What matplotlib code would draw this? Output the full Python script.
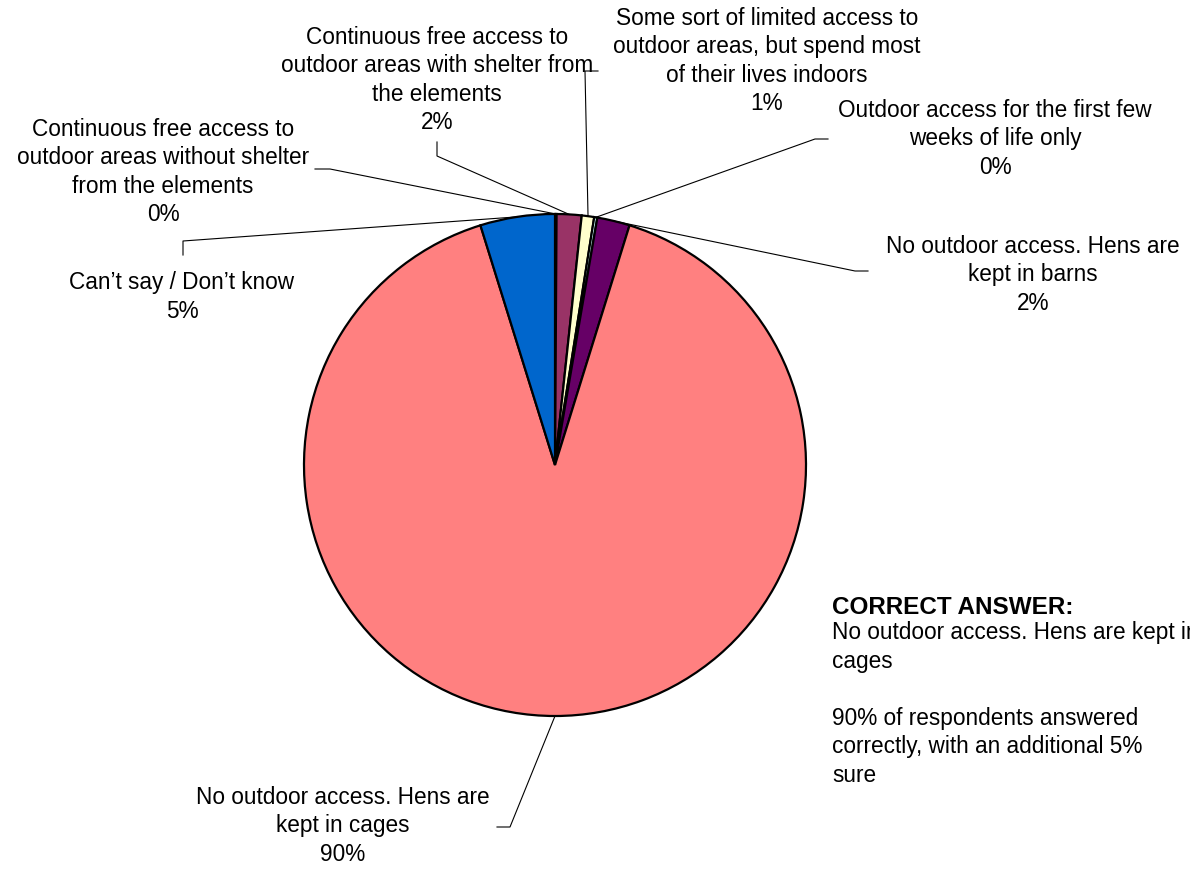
import matplotlib.pyplot as plt
import numpy as np

plt.rcParams['font.family'] = ['Liberation Sans', 'DejaVu Sans']

# data, clockwise from 12 o'clock
categories = [
    "Continuous free access to\noutdoor areas without shelter\nfrom the elements",
    "Continuous free access to\noutdoor areas with shelter from\nthe elements",
    "Some sort of limited access to\noutdoor areas, but spend most\nof their lives indoors",
    "Outdoor access for the first few\nweeks of life only",
    "No outdoor access. Hens are\nkept in barns",
    "No outdoor access. Hens are\nkept in cages",
    "Can\u2019t say / Don\u2019t know",
]
shares = [0.1, 1.6, 0.8, 0.2, 2.1, 90.4, 4.8]
colors = ['#9999FF', '#993366', '#FFFFCC', '#CCFFFF', '#660066', '#FF8080', '#0066CC']

# label layout in image pixels: text centre, elbow point, line end
label_pos = [(163, 172), (437, 80), (767, 61), (995, 139), (1033, 275), (343, 826), (182, 297)]
elbows = [(330, 170), (437, 157), (585, 72), (815, 140), (855, 272), (510, 828), (183, 242)]
ends = [(315, 170), (437, 143), (598, 72), (828, 140), (868, 272), (497, 828), (183, 256)]

H = 870
cx, cy, r = 555, 466, 251
FS = 16.3
LS = 1.31


def fy(y):
    return H - y


def main():
    fig = plt.figure(figsize=(11.9, 8.7), dpi=100)
    ax = fig.add_axes([0, 0, 1, 1])

    wedges, _ = ax.pie(shares, colors=colors, startangle=90, counterclock=False,
                       center=(cx, fy(cy)), radius=r, frame=True,
                       wedgeprops=dict(edgecolor='black', linewidth=1.6))
    ax.set_xlim(0, 1190)
    ax.set_ylim(0, H)
    ax.set_aspect('equal')
    ax.axis('off')

    for i, w in enumerate(wedges):
        mid = np.deg2rad((w.theta1 + w.theta2) / 2)
        px, py = cx + r * np.cos(mid), fy(cy) + r * np.sin(mid)
        ex, ey = elbows[i]
        nx, ny = ends[i]
        ax.plot([px, ex, nx], [py, fy(ey), fy(ny)], color='black', lw=0.8)
        tx, ty = label_pos[i]
        ax.text(tx, fy(ty), categories[i] + "\n" + f"{round(shares[i])}%",
                ha='center', va='center', fontsize=FS, linespacing=LS)

    ax.text(832, fy(607), "CORRECT ANSWER:", fontsize=17.5, fontweight='bold',
            ha='left', va='center')
    ax.text(832, fy(621), "No outdoor access. Hens are kept in\ncages\n\n"
            "90% of respondents answered\ncorrectly, with an additional 5%\nsure",
            fontsize=FS, ha='left', va='top', linespacing=LS)

    fig.savefig('out.png', dpi=100)


if __name__ == "__main__":
    main()
